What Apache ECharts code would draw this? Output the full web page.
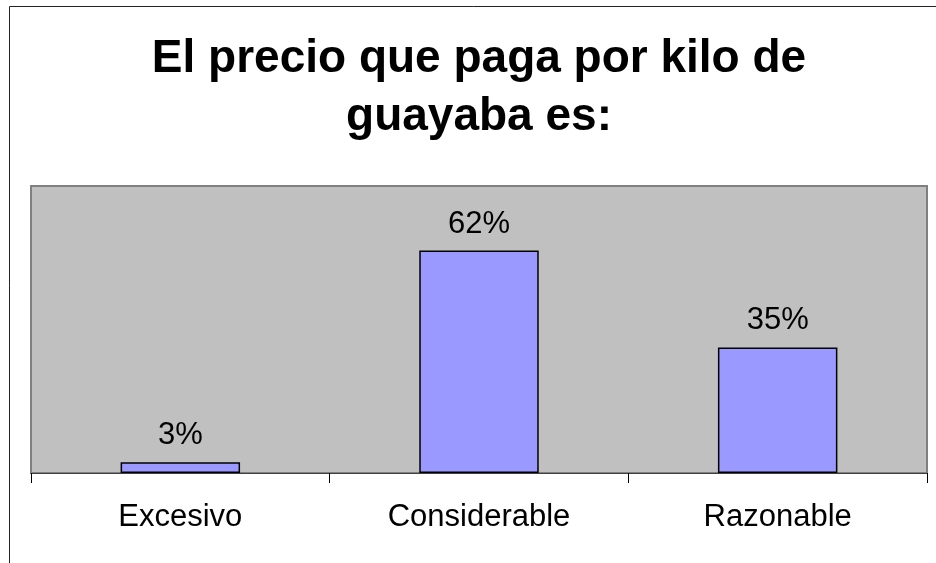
<!DOCTYPE html>
<html>
<head>
<meta charset="utf-8">
<script src="https://cdn.jsdelivr.net/npm/echarts@6/dist/echarts.min.js"></script>
<style>
  html, body { margin: 0; padding: 0; background: #fff; }
  #chart { width: 936px; height: 563px; }
</style>
</head>
<body>
<div id="chart"></div>
<script>
// datos del gráfico
var categorias = ['Excesivo', 'Considerable', 'Razonable'];
var porcentajes = [3, 62, 35];

var fuente = '"Liberation Sans", Arial, sans-serif';
var myChart = echarts.init(document.getElementById('chart'));

var option = {
    backgroundColor: '#fff',
    animation: false,
    title: {
        text: 'El precio que paga por kilo de\nguayaba es:',
        left: 474,
        textAlign: 'center',
        top: 25,
        textStyle: {
            fontFamily: fuente,
            fontSize: 46,
            fontWeight: 'bold',
            color: '#000',
            lineHeight: 58
        }
    },
    // marco exterior
    graphic: [{
        type: 'rect',
        silent: true,
        shape: { x: 9.5, y: 6.5, width: 1000, height: 1000 },
        style: { fill: 'none', stroke: '#222', lineWidth: 1 }
    }],
    grid: {
        left: 31,
        right: 9,
        top: 186,
        bottom: 90,
        show: true,
        backgroundColor: '#c0c0c0',
        borderColor: '#808080',
        borderWidth: 2
    },
    xAxis: {
        type: 'category',
        data: categorias,
        axisLine: { lineStyle: { color: '#404040', width: 1 } },
        axisTick: { show: true, length: 10, lineStyle: { color: '#000' } },
        axisLabel: {
            fontFamily: fuente,
            fontSize: 31,
            color: '#000',
            margin: 29
        }
    },
    yAxis: {
        type: 'value',
        min: 0,
        max: 80,
        show: false,
        splitLine: { show: false }
    },
    series: [{
        type: 'bar',
        data: porcentajes,
        barWidth: '40%',
        itemStyle: {
            color: '#9999ff',
            borderColor: '#000',
            borderWidth: 1.5
        },
        label: {
            show: true,
            position: 'top',
            distance: 11,
            formatter: '{c}%',
            fontFamily: fuente,
            fontSize: 31,
            color: '#000'
        }
    }]
};

myChart.setOption(option);
</script>
</body>
</html>
